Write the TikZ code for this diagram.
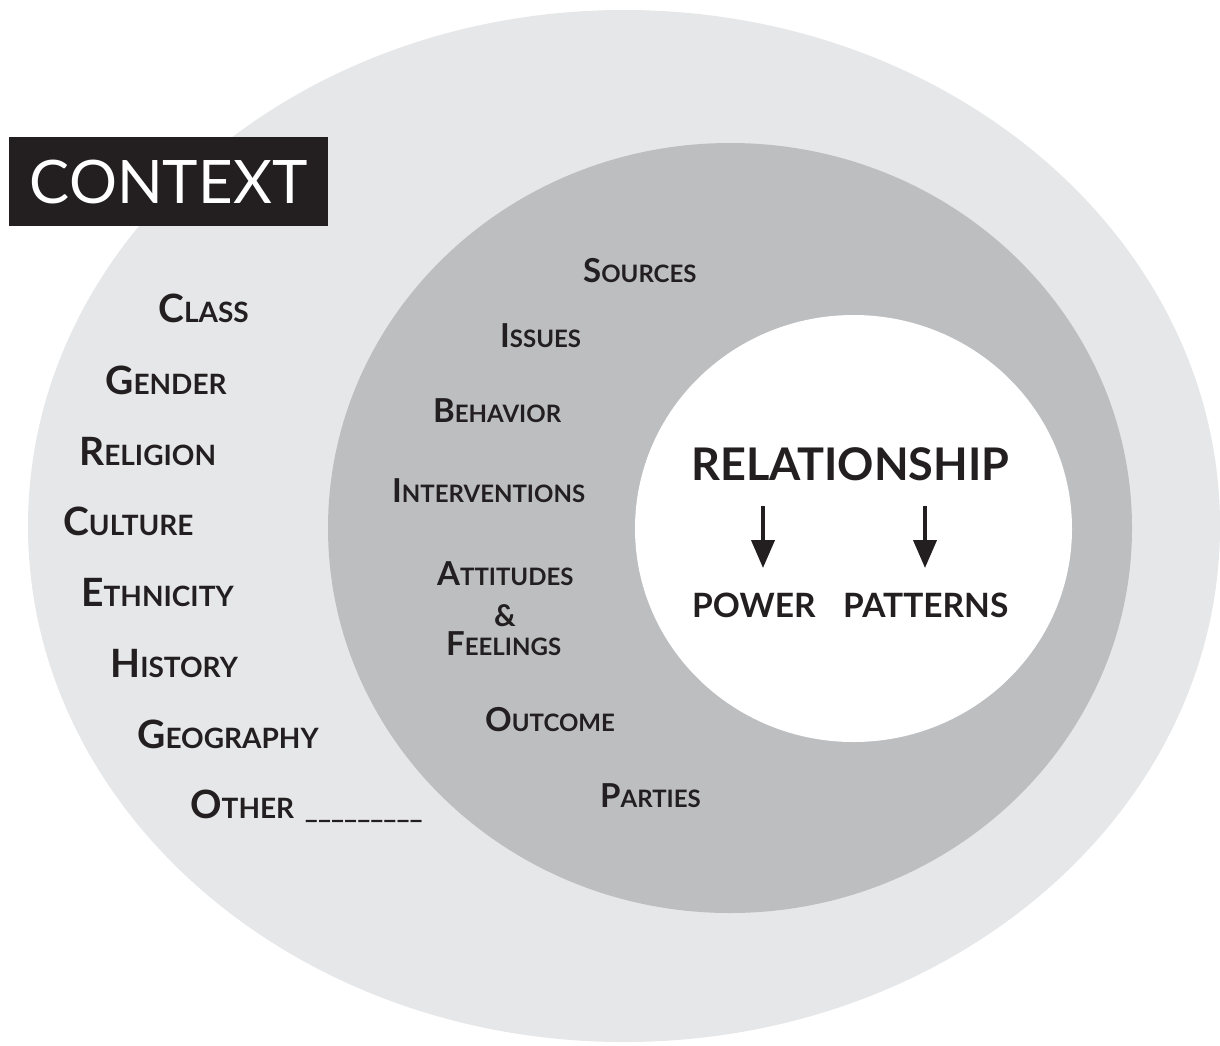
\documentclass[tikz,border=0pt]{standalone}
\usepackage{fontspec}
\setmainfont{Lato}
\usepackage{tikz}
\usetikzlibrary{arrows.meta,positioning}
\usepackage{xcolor}
\definecolor{cxlight}{RGB}{230,231,232}
\definecolor{cxmid}{RGB}{188,190,192}
\definecolor{cxdark}{RGB}{35,31,32}
\tikzstyle{arrow} = [line width=4pt,-{Triangle[width=23pt,length=28pt]},color=cxdark]
% fake small caps: big first letter, smaller capitals after
\newcommand{\smcap}[2]{{\fontsize{39}{39}\selectfont #1}{\fontsize{28}{28}\selectfont #2}}
\newcommand{\smcapin}[2]{{\fontsize{33}{33}\selectfont #1}{\fontsize{24}{24}\selectfont #2}}

\begin{document}
\begin{tikzpicture}[x=1pt, y=-1pt,
    ctxlabel/.style={anchor=base west, inner sep=0pt, text=cxdark, font=\bfseries},
    conlabel/.style={anchor=base west, inner sep=0pt, text=cxdark, font=\bfseries},
    rellabel/.style={anchor=base west, inner sep=0pt, text=cxdark, font=\bfseries}]

\useasboundingbox (0,0) rectangle (1220,1045);
\clip (0,0) rectangle (1220,1045);

% Rings
\fill[cxlight] (624,526) ellipse [x radius=596, y radius=516];
\fill[cxmid] (730,528) ellipse [x radius=402, y radius=385];
\fill[white] (853.5,528.5) ellipse [x radius=218.5, y radius=213.5];

% Title box
\node[fill=cxdark, text=white, minimum width=319pt, minimum height=89pt,
      inner sep=0pt, font=\fontsize{60}{60}\selectfont] (context) at (168.5,181.5) {CONTEXT};

% Context factors
\node[ctxlabel] (class) at (158,322) {\smcap{C}{LASS}};
\node[ctxlabel] (gender) at (105,394) {\smcap{G}{ENDER}};
\node[ctxlabel] (religion) at (79,465) {\smcap{R}{ELIGION}};
\node[ctxlabel] (culture) at (63,535) {\smcap{C}{ULTURE}};
\node[ctxlabel] (ethnicity) at (81,606) {\smcap{E}{THNICITY}};
\node[ctxlabel] (history) at (110,677) {\smcap{H}{ISTORY}};
\node[ctxlabel] (geography) at (137,748) {\smcap{G}{EOGRAPHY}};
\node[ctxlabel] (other) at (190,818) {\smcap{O}{THER\hspace{4pt} \_\_\_\_\_\_\_\_\_}};

% Conflict elements
\node[conlabel] (sources) at (583,282) {\smcapin{S}{OURCES}};
\node[conlabel] (issues) at (500,347) {\smcapin{I}{SSUES}};
\node[conlabel] (behavior) at (433,422) {\smcapin{B}{EHAVIOR}};
\node[conlabel] (interventions) at (392,502) {\smcapin{I}{NTERVENTIONS}};
\node[conlabel] (attitudes) at (437,585) {\smcapin{A}{TTITUDES}};
\node[conlabel, anchor=base] (amp) at (505,626) {\fontsize{30}{30}\selectfont\&};
\node[conlabel] (feelings) at (446,655) {\smcapin{F}{EELINGS}};
\node[conlabel] (outcome) at (485,731) {\smcapin{O}{UTCOME}};
\node[conlabel] (parties) at (600,807) {\smcapin{P}{ARTIES}};

% Relationship core
\node[rellabel, font=\bfseries\fontsize{45}{45}\selectfont] (relationship) at (691,480) {RELATIONSHIP};
\node[rellabel, font=\bfseries\fontsize{33.5}{33.5}\selectfont] (power) at (692,617) {POWER};
\node[rellabel, font=\bfseries\fontsize{33.5}{33.5}\selectfont] (patterns) at (843,617) {PATTERNS};

\coordinate (powtop) at (763,506);
\coordinate (pattop) at (925,506);
\draw[arrow] (powtop) -- (powtop |- 0,568);
\draw[arrow] (pattop) -- (pattop |- 0,568);

\end{tikzpicture}
\end{document}
